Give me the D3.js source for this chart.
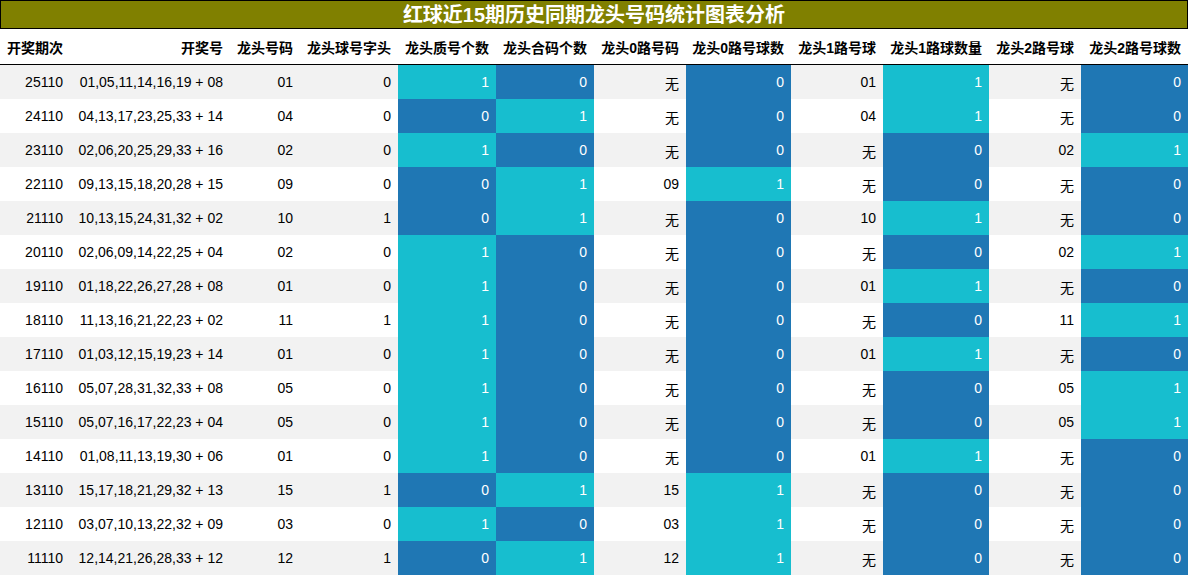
<!DOCTYPE html><html><head><meta charset="utf-8">
<script src="https://cdn.jsdelivr.net/npm/d3@7/dist/d3.min.js"></script>
<style>body{margin:0;background:#fff}</style></head><body><svg id="c" width="1188" height="576"></svg>
<script>
const title = "红球近15期历史同期龙头号码统计图表分析";
const headers = ["开奖期次","开奖号","龙头号码","龙头球号字头","龙头质号个数","龙头合码个数","龙头0路号码","龙头0路号球数","龙头1路号球","龙头1路球数量","龙头2路号球","龙头2路号球数"];
const periods = ["25110","24110","23110","22110","21110","20110","19110","18110","17110","16110","15110","14110","13110","12110","11110"];
const draws = ["01,05,11,14,16,19 + 08","04,13,17,23,25,33 + 14","02,06,20,25,29,33 + 16","09,13,15,18,20,28 + 15","10,13,15,24,31,32 + 02","02,06,09,14,22,25 + 04","01,18,22,26,27,28 + 08","11,13,16,21,22,23 + 02","01,03,12,15,19,23 + 14","05,07,28,31,32,33 + 08","05,07,16,17,22,23 + 04","01,08,11,13,19,30 + 06","15,17,18,21,29,32 + 13","03,07,10,13,22,32 + 09","12,14,21,26,28,33 + 12"];
const heads = ["01","04","02","09","10","02","01","11","01","05","05","01","15","03","12"];
const headDigit = [0,0,0,0,1,0,0,1,0,0,0,0,1,0,1];
const primeCnt = [1,0,1,0,0,1,1,1,1,1,1,1,0,1,0];
const compCnt = [0,1,0,1,1,0,0,0,0,0,0,0,1,0,1];
const r0Num = ["无","无","无","09","无","无","无","无","无","无","无","无","15","03","12"];
const r0Cnt = [0,0,0,1,0,0,0,0,0,0,0,0,1,1,1];
const r1Num = ["01","04","无","无","10","无","01","无","01","无","无","01","无","无","无"];
const r1Cnt = [1,1,0,0,1,0,1,0,1,0,0,1,0,0,0];
const r2Num = ["无","无","02","无","无","02","无","11","无","05","05","无","无","无","无"];
const r2Cnt = [0,0,1,0,0,1,0,1,0,1,1,0,0,0,0];

const cols = [periods,draws,heads,headDigit,primeCnt,compCnt,r0Num,r0Cnt,r1Num,r1Cnt,r2Num,r2Cnt];
const colored = new Set([4,5,7,9,11]);
const edges = [0,70,230,300,398,496,594,686,791,883,989,1081,1188];
const svg = d3.select("#c");
const font = "'Liberation Sans','DejaVu Sans','Noto Sans CJK SC',sans-serif";
svg.append("rect").attr("x",0.5).attr("y",0.5).attr("width",1187).attr("height",28).attr("fill","#808000").attr("stroke","#000");
svg.append("text").attr("x",594).attr("y",22).attr("text-anchor","middle").attr("fill","#fff")
  .attr("font-size",20).attr("font-weight","bold").attr("font-family",font).text(title);
const y = d3.scaleBand().domain(d3.range(15)).range([65,575]);
headers.forEach((h,i)=>{
  svg.append("text").attr("x",edges[i+1]-7).attr("y",53).attr("text-anchor","end")
   .attr("font-size",14).attr("font-weight","bold").attr("font-family",font).text(h);
});
svg.append("line").attr("x1",0).attr("x2",1188).attr("y1",64.5).attr("y2",64.5).attr("stroke","#000");
for(let r=0;r<15;r++){
  const bg = r%2===0?"#f2f2f2":"#ffffff";
  cols.forEach((col,c)=>{
    const v=col[r];
    let fill=bg, tc="#000";
    if(colored.has(c)){fill = v===1?"#17becf":"#1f77b4"; tc="#fff";}
    svg.append("rect").attr("x",edges[c]).attr("y",y(r)).attr("width",edges[c+1]-edges[c]).attr("height",y.bandwidth()).attr("fill",fill);
    svg.append("text").attr("x",edges[c+1]-7).attr("y",y(r)+(v==="无"?24:22)).attr("text-anchor","end")
      .attr("fill",tc).attr("font-size",14).attr("font-family",font).text(v);
  });
}
</script></body></html>
